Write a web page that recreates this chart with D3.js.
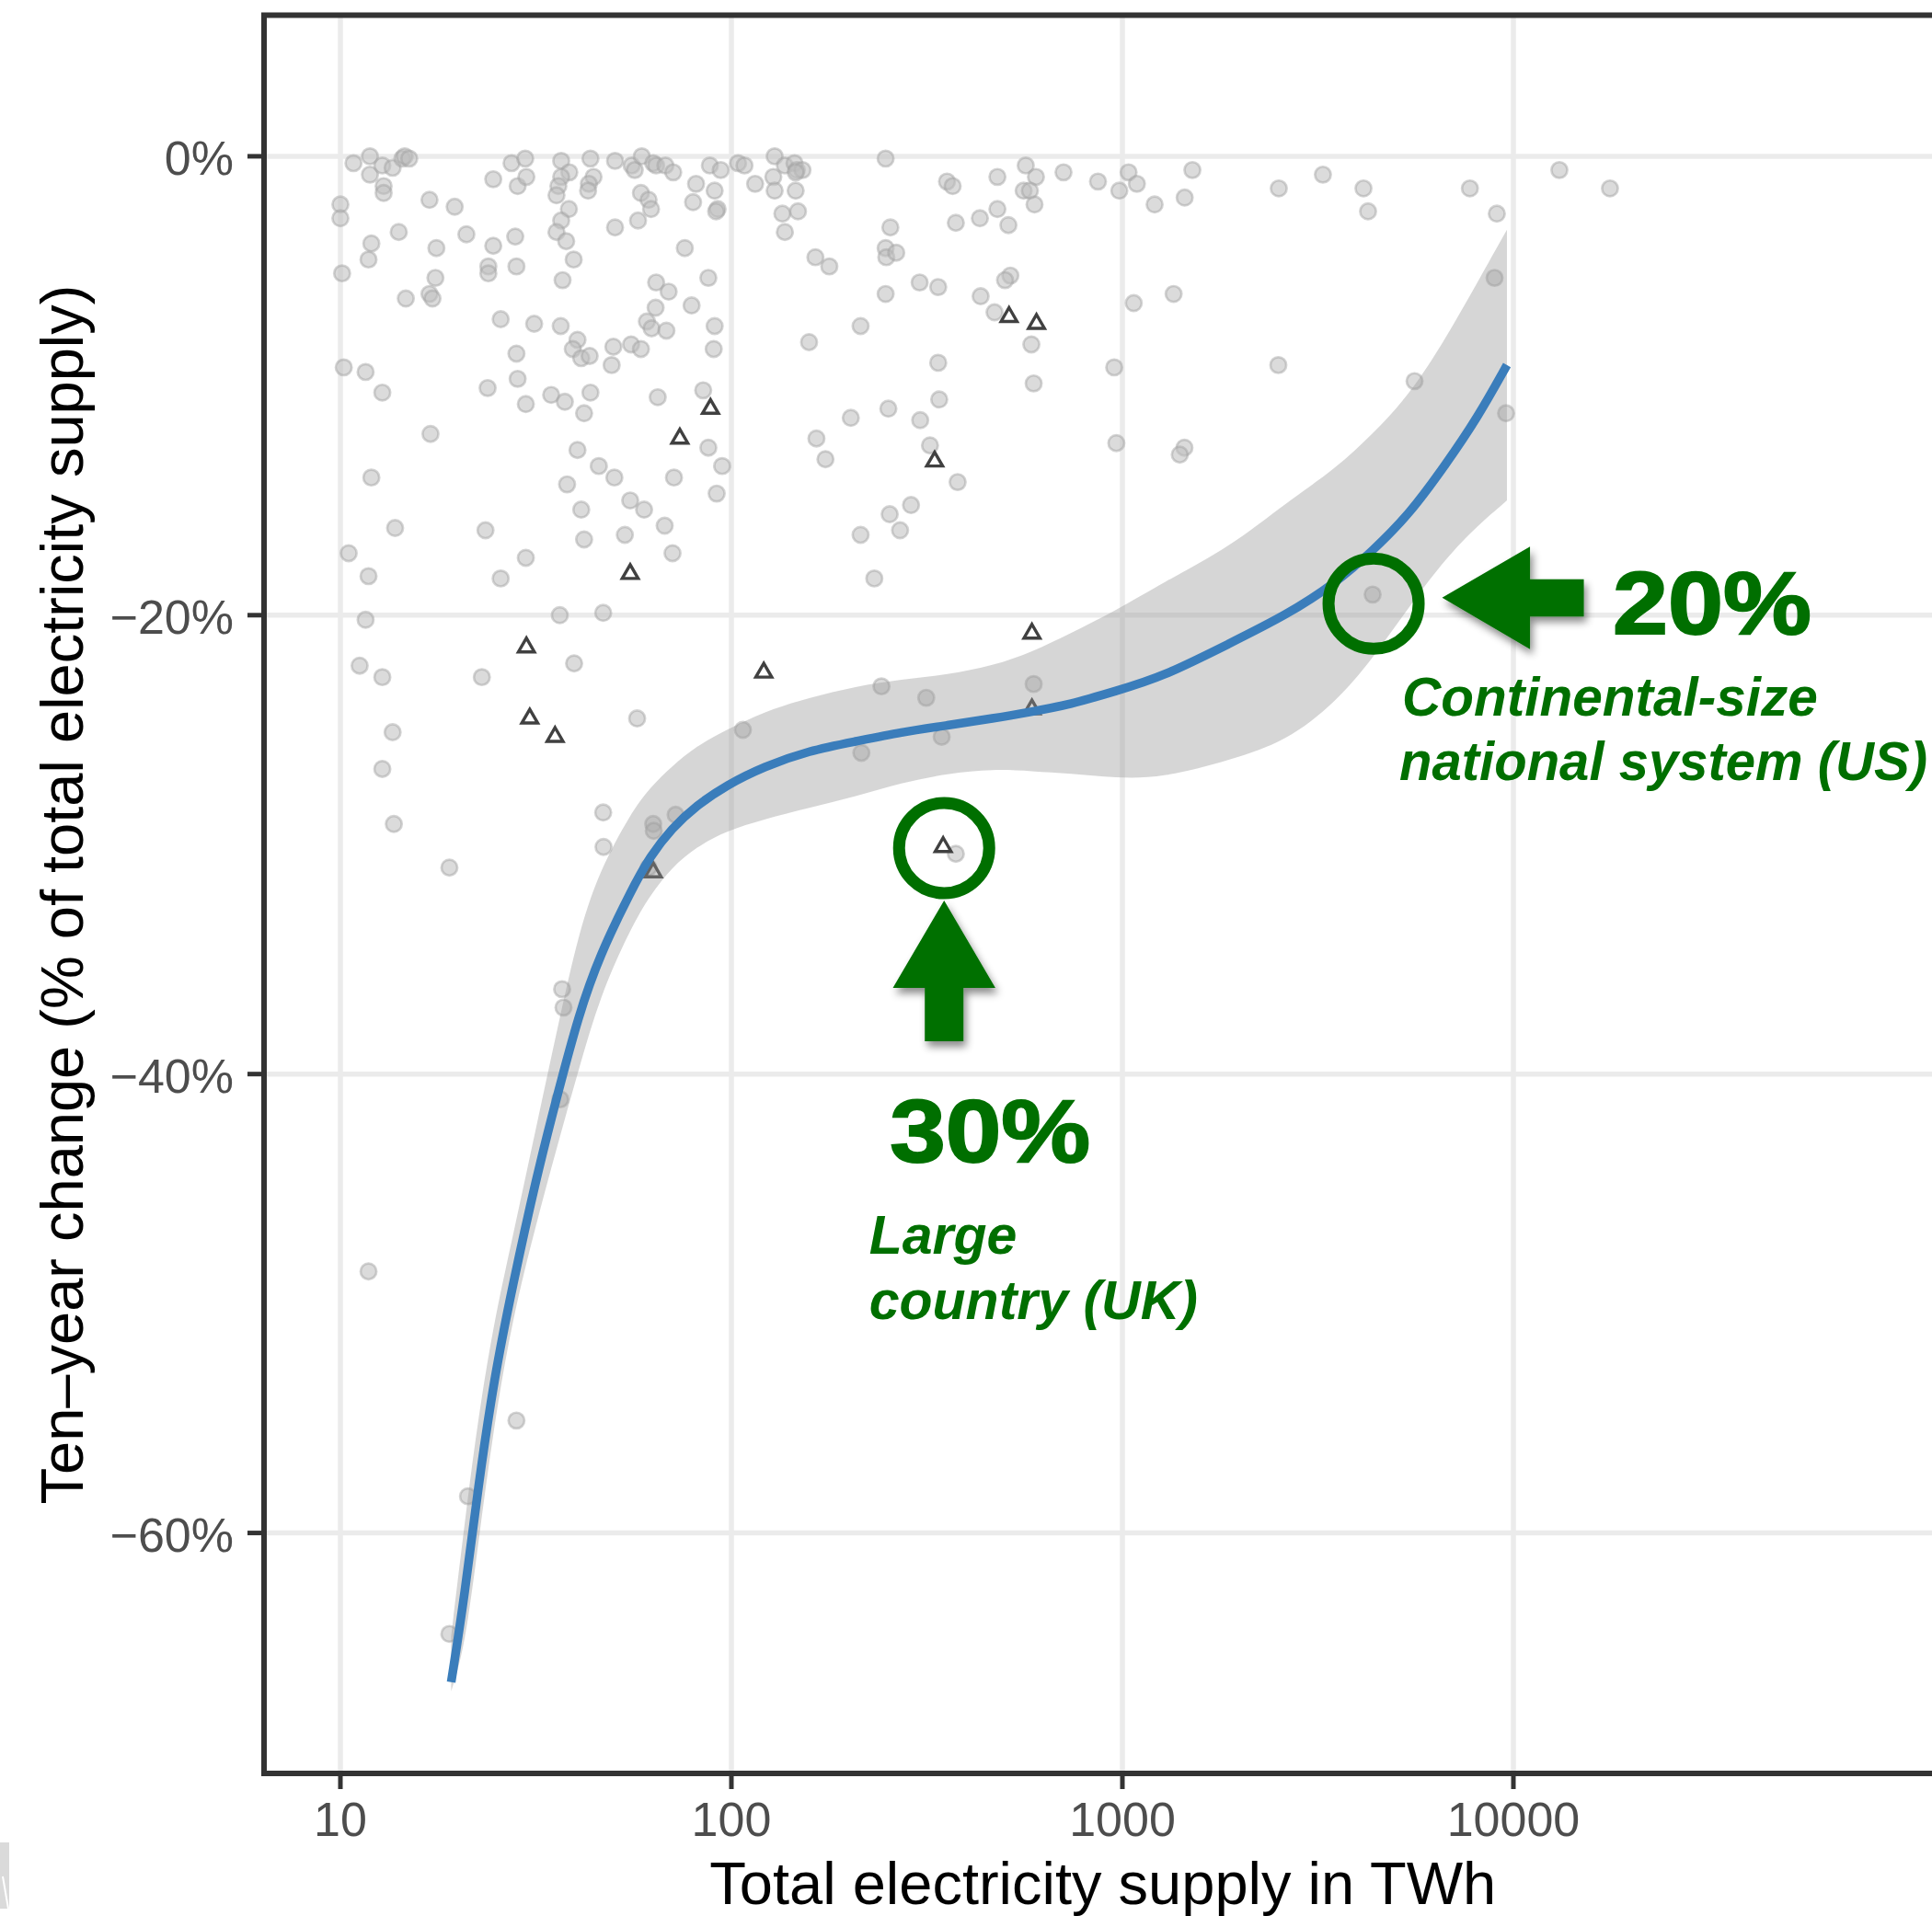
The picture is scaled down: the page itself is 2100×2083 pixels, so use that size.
<!DOCTYPE html>
<html>
<head>
<meta charset="utf-8">
<script src="https://cdn.jsdelivr.net/npm/d3@7"></script>
<style>
  html, body { margin: 0; padding: 0; background: #ffffff; }
  svg { display: block; }
</style>
</head>
<body>
<svg id="chart" width="2100" height="2083"></svg>
<script>
// ---- Data -------------------------------------------------------------
// Systems shown as grey circles: total supply (TWh) and ten-year change (%)
const circleSupply = [
  10.8, 11.9, 11.9, 12.8, 13.6, 14.4, 14.6, 15.0, 12.9, 12.9,
  10.0, 10.0, 16.9, 19.6, 14.1, 12.0, 11.8, 10.1, 17.6, 17.5,
  16.9, 17.2, 14.7, 21.0, 24.6, 27.4, 29.7, 28.4, 29.9, 36.7,
  38.5, 36.7, 36.1, 35.7, 38.4, 36.7, 35.7, 37.8, 39.5, 37.0,
  43.6, 44.4, 43.2, 43.0, 50.4, 55.6, 56.6, 59.0, 63.1, 64.2,
  67.8, 71.0, 58.7, 61.4, 62.3, 57.7, 50.4, 76.0, 81.2, 79.8,
  88.1, 93.9, 90.6, 92.2, 91.4, 87.3, 104, 108, 115, 24.6,
  28.0, 23.9, 23.9, 28.2, 64.2, 69.1, 64.0, 79.1, 90.6, 90.1,
  60.8, 62.5, 68.2, 55.4, 58.7, 49.9, 49.4, 25.7, 31.3, 36.6,
  40.4, 39.3, 41.3, 43.4, 28.2, 28.4, 23.8, 29.8, 34.6, 37.5,
  43.6, 42.0, 64.8, 84.7, 10.2, 11.6, 12.8, 17.0, 40.4, 45.8,
  50.2, 38.0, 71.3, 87.3, 94.7, 91.7, 12.0, 41.3, 55.1, 59.8,
  67.5, 53.4, 42.0, 70.7, 13.8, 23.5, 10.5, 11.8, 29.8, 25.7,
  129, 137, 145, 147, 152, 146, 128, 129, 146, 135,
  148, 137, 248, 255, 248, 249, 264, 164, 178, 303,
  338, 248, 214, 158, 356, 368, 375, 432, 479, 479,
  511, 566, 601, 559, 580, 596, 707, 866, 982, 1037,
  1089, 1209, 1443, 1510, 517, 501, 434, 471, 585, 593,
  338, 340, 252, 202, 304, 165, 174, 322, 379, 288,
  254, 270, 214, 232, 1069, 1352, 953, 965, 1441, 1402,
  11.6, 11.2, 12.8, 23.0, 36.4, 47.0, 39.6, 13.6, 12.8, 13.7,
  19.0, 57.4, 107, 47.0, 47.1, 63.1, 63.3, 72.0, 36.9, 37.2, 61.4,
  242, 315, 593, 215, 345, 375,
  2512, 3257, 4136, 4249, 7740, 9070, 13110, 17660, 8950, 2505, 5587, 9577, 4365,
  36.5, 11.8, 28.2, 21.2, 19.0
];
const circleChange = [
  -0.3, 0.0, -0.8, -0.4, -0.5, -0.1, 0.0, -0.1, -1.3, -1.6,
  -2.1, -2.7, -1.9, -2.2, -3.3, -3.8, -4.5, -5.1, -4.0, -5.3,
  -6.0, -6.2, -6.2, -3.4, -1.0, -0.3, -0.1, -1.3, -0.9, -0.2,
  -0.7, -0.9, -1.3, -1.7, -2.3, -2.8, -3.3, -3.7, -4.5, -5.4,
  -0.1, -0.9, -1.2, -1.5, -0.2, -0.4, -0.6, 0.0, -0.3, -0.4,
  -0.4, -0.7, -1.6, -1.9, -2.3, -2.8, -3.1, -4.0, -1.2, -2.0,
  -0.4, -0.6, -1.5, -2.3, -2.4, -5.3, -0.3, -0.4, -1.2, -3.9,
  -3.5, -4.8, -5.1, -4.8, -5.5, -5.9, -6.6, -6.5, -7.4, -8.4,
  -7.2, -7.5, -7.6, -8.2, -8.4, -8.3, -9.1, -7.1, -7.3, -7.4,
  -8.0, -8.4, -8.8, -8.7, -8.6, -9.7, -10.1, -10.8, -10.4, -10.7,
  -10.3, -11.2, -10.5, -10.2, -9.2, -9.4, -10.3, -12.1, -12.8, -13.5,
  -14.0, -14.3, -14.0, -12.7, -13.5, -14.7, -14.0, -15.4, -15.0, -15.4,
  -16.1, -16.5, -16.7, -17.3, -16.2, -16.3, -17.3, -18.3, -17.5, -18.4,
  0.0, -0.4, -0.3, -0.6, -0.6, -0.7, -0.9, -1.5, -1.5, -2.5,
  -2.4, -3.3, -0.1, -3.1, -4.0, -4.4, -4.2, -4.4, -4.8, -5.5,
  -5.7, -6.0, -7.4, -8.1, -1.1, -1.3, -2.9, -2.7, -0.9, -2.3,
  -3.0, -0.4, -0.9, -1.5, -1.5, -2.1, -0.7, -1.1, -1.5, -0.7,
  -1.2, -2.1, -1.8, -0.6, -5.2, -5.4, -6.1, -6.8, -8.2, -9.9,
  -9.0, -10.6, -11.0, -11.4, -11.5, -12.3, -13.2, -12.6, -14.2, -15.2,
  -15.6, -16.3, -16.5, -18.4, -6.4, -6.0, -9.2, -12.5, -12.7, -13.0,
  -20.2, -22.2, -22.7, -22.7, -20.0, -19.9, -22.1, -25.1, -26.7, -29.1,
  -31.0, -24.5, -25.0, -28.6, -30.1, -29.1, -29.4, -28.7, -36.3, -37.1, -31.0,
  -23.1, -23.6, -23.0, -26.0, -25.3, -30.4,
  -1.4, -0.8, -1.4, -2.4, -1.4, -2.5, -0.6, -1.4, -5.3, -9.1, -9.8, -11.2, -19.1,
  -41.1, -48.6, -55.1, -58.4, -64.4
];

// Systems shown as open triangles
const triangleSupply = [88.4, 73.8, 55.1, 513, 603, 331, 29.9, 30.5, 35.4, 63.1, 121, 587, 587, 348];
const triangleChange = [-11.0, -12.3, -18.2, -7.0, -7.3, -13.3, -21.4, -24.5, -25.3, -31.2, -22.5, -20.8, -24.1, -30.1];

// Smoothed trend with its confidence band
const fitSupply = [19.2, 20.8, 22.5, 24.7, 27.5, 31.7, 35.9, 40.7, 46.1, 55.4, 62.0, 70.3, 81.3, 97.3, 121, 158,
                   208, 272, 357, 468, 588, 734, 963, 1263, 1895, 2623, 3515, 4365, 5422, 6734, 8091, 9627];
const fitChange = [-66.5, -62.7, -58.0, -53.3, -49.3, -44.5, -40.9, -37.4, -34.8, -32.0, -30.5, -29.3, -28.3, -27.4, -26.6, -25.9,
                   -25.5, -25.1, -24.8, -24.5, -24.2, -23.9, -23.3, -22.7, -21.2, -20.0, -18.6, -17.2, -15.6, -13.4, -11.4, -9.1];
const fitUpper = [-64.5, -59.5, -55.0, -50.8, -47.2, -42.3, -38.0, -33.8, -31.1, -28.6, -27.5, -26.6, -25.7, -25.0, -24.2, -23.6,
                  -23.1, -22.8, -22.6, -22.2, -21.6, -20.8, -19.8, -18.6, -17.0, -15.1, -13.6, -12.1, -10.4, -7.9, -5.5, -3.2];
const fitLower = [-66.9, -65.0, -60.5, -55.3, -50.7, -46.5, -43.1, -39.8, -36.6, -33.6, -32.2, -31.0, -30.1, -29.4, -28.9, -28.4,
                  -27.9, -27.3, -26.9, -26.7, -26.8, -26.9, -27.1, -27.1, -26.3, -25.5, -23.8, -21.9, -19.6, -17.5, -16.1, -15.0];

// Axis breaks
const xTicks = [10, 100, 1000, 10000];
const yTicks = [0, -20, -40, -60];

// Highlighted systems
const ukMark = { supply: 350, change: -30.15 };
const usMark = { supply: 4390, change: -19.5 };

// ---- Layout -------------------------------------------------------------
const svg = d3.select("#chart");
const FONT = "'Liberation Sans', Arial, Helvetica, sans-serif";
const panel = { left: 285, right: 2112.5, top: 16, bottom: 1929 };
const green = "#006f00";

const x = d3.scaleLog()
  .domain([Math.pow(10, 0.8), Math.pow(10, 5.1)])
  .range([panel.left, panel.right]);
const y = d3.scaleLinear()
  .domain([-70.52, 6.17])
  .range([panel.bottom, panel.top]);

svg.append("rect").attr("width", 2100).attr("height", 2083).attr("fill", "#ffffff");

const defs = svg.append("defs");
defs.append("clipPath").attr("id", "panel-clip")
  .append("rect")
  .attr("x", panel.left).attr("y", panel.top)
  .attr("width", panel.right - panel.left).attr("height", panel.bottom - panel.top);

const shadow = defs.append("filter").attr("id", "arrow-shadow")
  .attr("x", "-30%").attr("y", "-30%").attr("width", "160%").attr("height", "160%");
shadow.append("feDropShadow")
  .attr("dx", 3).attr("dy", 6).attr("stdDeviation", 4)
  .attr("flood-color", "#000").attr("flood-opacity", 0.45);

// ---- Grid ----------------------------------------------------------------
const grid = svg.append("g").attr("clip-path", "url(#panel-clip)");
grid.selectAll(".vgrid").data(xTicks).join("line")
  .attr("x1", d => x(d)).attr("x2", d => x(d))
  .attr("y1", panel.top).attr("y2", panel.bottom)
  .attr("stroke", "#ebebeb").attr("stroke-width", 5.5);
grid.selectAll(".hgrid").data(yTicks).join("line")
  .attr("x1", panel.left).attr("x2", panel.right)
  .attr("y1", d => y(d)).attr("y2", d => y(d))
  .attr("stroke", "#ebebeb").attr("stroke-width", 5.5);

// ---- Marks ---------------------------------------------------------------
const plot = svg.append("g").attr("clip-path", "url(#panel-clip)");

const circles = circleSupply.map((s, i) => ({ s, c: circleChange[i] }));
plot.append("g").selectAll("circle").data(circles).join("circle")
  .attr("cx", d => x(d.s)).attr("cy", d => y(d.c))
  .attr("r", 8.6)
  .attr("fill", "#bebebe").attr("fill-opacity", 0.55)
  .attr("stroke", "#a0a0a0").attr("stroke-opacity", 0.45).attr("stroke-width", 2.7);

const triangles = triangleSupply.map((s, i) => ({ s, c: triangleChange[i] }));
const triSymbol = d3.symbol().type(d3.symbolTriangle).size(130);
plot.append("g").selectAll("path").data(triangles).join("path")
  .attr("d", triSymbol)
  .attr("transform", d => `translate(${x(d.s)},${y(d.c)})`)
  .attr("fill", "none").attr("stroke", "#404040").attr("stroke-width", 3.4)
  .attr("stroke-linejoin", "miter");

const fit = fitSupply.map((s, i) => ({ s, c: fitChange[i], hi: fitUpper[i], lo: fitLower[i] }));
plot.append("path")
  .datum(fit)
  .attr("d", d3.area().curve(d3.curveBasis)
    .x(d => x(d.s)).y0(d => y(d.lo)).y1(d => y(d.hi)))
  .attr("fill", "#999999").attr("fill-opacity", 0.4);
plot.append("path")
  .datum(fit)
  .attr("d", d3.line().curve(d3.curveBasis).x(d => x(d.s)).y(d => y(d.c)))
  .attr("fill", "none").attr("stroke", "#3a7dbb").attr("stroke-width", 9.5);

// ---- Panel border & axes -----------------------------------------------
svg.append("rect")
  .attr("x", 287).attr("y", 16.5)
  .attr("width", 1840).attr("height", 1928 - 16.5)
  .attr("fill", "none").attr("stroke", "#333333").attr("stroke-width", 6);

const axes = svg.append("g");
axes.selectAll(".ytick").data(yTicks).join("line")
  .attr("x1", 269).attr("x2", 287)
  .attr("y1", d => y(d)).attr("y2", d => y(d))
  .attr("stroke", "#333333").attr("stroke-width", 5);
axes.selectAll(".xtick").data(xTicks).join("line")
  .attr("x1", d => x(d)).attr("x2", d => x(d))
  .attr("y1", 1928).attr("y2", 1945)
  .attr("stroke", "#333333").attr("stroke-width", 5);

const pct = d => (d < 0 ? "\u2212" + Math.abs(d) : d) + "%";
axes.selectAll(".ylab").data(yTicks).join("text")
  .attr("x", 254).attr("y", d => y(d) + 20)
  .attr("text-anchor", "end")
  .attr("font-family", FONT).attr("font-size", 52).attr("fill", "#4d4d4d")
  .text(pct);
axes.selectAll(".xlab").data(xTicks).join("text")
  .attr("x", d => x(d)).attr("y", 1996)
  .attr("text-anchor", "middle")
  .attr("font-family", FONT).attr("font-size", 52).attr("fill", "#4d4d4d")
  .text(d => String(d));

svg.append("text")
  .attr("x", (panel.left + panel.right) / 2).attr("y", 2070)
  .attr("text-anchor", "middle")
  .attr("font-family", FONT).attr("font-size", 65).attr("fill", "#000")
  .text("Total electricity supply in TWh");
svg.append("text")
  .attr("transform", `translate(89.5,${(panel.top + panel.bottom) / 2}) rotate(-90)`)
  .attr("text-anchor", "middle")
  .attr("font-family", FONT).attr("font-size", 65).attr("fill", "#000")
  .text("Ten\u2013year change (% of total electricity supply)");

// ---- Callouts -------------------------------------------------------------
const note = svg.append("g");

function ring(cx, cy) {
  note.append("circle")
    .attr("cx", cx).attr("cy", cy).attr("r", 49)
    .attr("fill", "none").attr("stroke", green).attr("stroke-width", 13);
}

// UK: ring, upward arrow, labels
const ukX = x(ukMark.supply), ukY = y(ukMark.change);
ring(ukX, ukY);
note.append("path")
  .attr("d", d3.line()([
    [ukX, ukY + 57], [ukX + 55.7, ukY + 152], [ukX + 21, ukY + 152], [ukX + 21, ukY + 210],
    [ukX - 21, ukY + 210], [ukX - 21, ukY + 152], [ukX - 55.7, ukY + 152]
  ]) + "Z")
  .attr("fill", green).attr("filter", "url(#arrow-shadow)");
note.append("text")
  .attr("x", ukX - 59).attr("y", ukY + 341)
  .attr("font-family", FONT).attr("font-weight", "bold").attr("font-size", 97)
  .attr("fill", green).attr("stroke", green).attr("stroke-width", 2)
  .attr("textLength", 218).attr("lengthAdjust", "spacingAndGlyphs")
  .text("30%");
note.append("text")
  .attr("x", ukX - 81.5).attr("y", ukY + 441)
  .attr("font-family", FONT).attr("font-weight", "bold").attr("font-style", "italic").attr("font-size", 59)
  .attr("fill", green)
  .text("Large");
note.append("text")
  .attr("x", ukX - 81.5).attr("y", ukY + 512)
  .attr("font-family", FONT).attr("font-weight", "bold").attr("font-style", "italic").attr("font-size", 59)
  .attr("fill", green)
  .text("country (UK)");

// US: ring, leftward arrow, labels
const usX = x(usMark.supply), usY = y(usMark.change);
ring(usX, usY);
note.append("path")
  .attr("d", d3.line()([
    [usX + 74.5, usY - 6.5], [usX + 170, usY - 62], [usX + 170, usY - 26.7], [usX + 228.5, usY - 26.7],
    [usX + 228.5, usY + 14], [usX + 170, usY + 14], [usX + 170, usY + 49.5]
  ]) + "Z")
  .attr("fill", green).attr("filter", "url(#arrow-shadow)");
note.append("text")
  .attr("x", usX + 260).attr("y", usY + 32.5)
  .attr("font-family", FONT).attr("font-weight", "bold").attr("font-size", 97)
  .attr("fill", green).attr("stroke", green).attr("stroke-width", 2)
  .attr("textLength", 216).attr("lengthAdjust", "spacingAndGlyphs")
  .text("20%");
note.append("text")
  .attr("x", usX + 31).attr("y", usY + 121.5)
  .attr("font-family", FONT).attr("font-weight", "bold").attr("font-style", "italic").attr("font-size", 58.5)
  .attr("fill", green)
  .text("Continental-size");
note.append("text")
  .attr("x", usX + 28).attr("y", usY + 191.5)
  .attr("font-family", FONT).attr("font-weight", "bold").attr("font-style", "italic").attr("font-size", 58.5)
  .attr("fill", green)
  .attr("textLength", 574).attr("lengthAdjust", "spacingAndGlyphs")
  .text("national system (US)");

// small grey corner mark at the lower left
svg.append("path")
  .attr("d", "M0,2003 L10,2003 L10,2075 L0,2075 Z")
  .attr("fill", "#dadada");
svg.append("line")
  .attr("x1", 3).attr("y1", 2040).attr("x2", 9).attr("y2", 2075)
  .attr("stroke", "#ffffff").attr("stroke-width", 2);
</script>
</body>
</html>
